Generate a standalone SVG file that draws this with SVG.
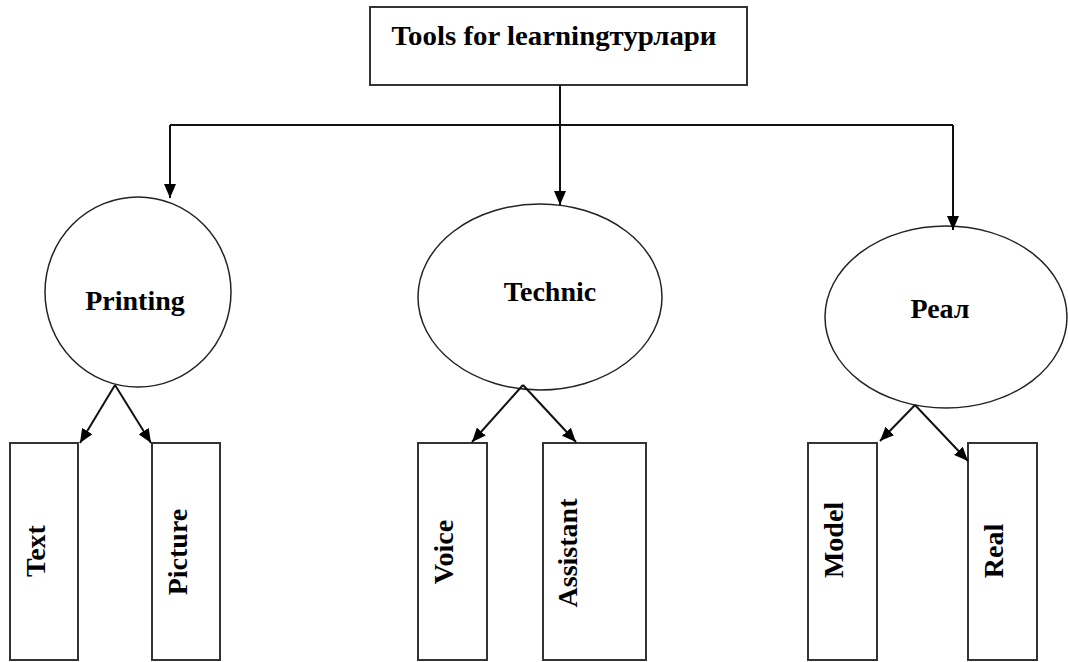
<svg xmlns="http://www.w3.org/2000/svg" width="1068" height="662" viewBox="0 0 1068 662">
<style>
.box{fill:#fff;stroke:#333;stroke-width:2}
.ell{fill:#fff;stroke:#222;stroke-width:1.5}
.lbl{font-family:"Liberation Serif","Times New Roman",serif;font-weight:bold;font-size:28px;fill:#000}
.con{fill:none;stroke:#111;stroke-width:2}
</style>
<defs>
<marker id="ah" viewBox="0 0 14 12" refX="14" refY="6" markerWidth="14" markerHeight="12" markerUnits="userSpaceOnUse" orient="auto">
<path d="M0,0 L14,6 L0,12 z" fill="#000"/>
</marker>
</defs>
<rect width="1068" height="662" fill="#fff"/>
<g id="root">
<rect class="box" x="370" y="7" width="377" height="78"/>
<text class="lbl" x="554" y="45" text-anchor="middle" textLength="325" lengthAdjust="spacingAndGlyphs">Tools for learningтурлари</text>
</g>
<g id="printing">
<ellipse class="ell" cx="138" cy="292" rx="93" ry="95"/>
<text class="lbl" x="135" y="310" text-anchor="middle">Printing</text>
</g>
<g id="technic">
<ellipse class="ell" cx="540" cy="297" rx="122" ry="93"/>
<text class="lbl" x="550" y="301" text-anchor="middle">Technic</text>
</g>
<g id="real-top">
<ellipse class="ell" cx="946" cy="317" rx="121" ry="91"/>
<text class="lbl" x="940" y="318" text-anchor="middle">Реал</text>
</g>
<g id="text">
<rect class="box" x="10" y="443" width="68" height="217"/>
<text class="lbl" transform="translate(45,551) rotate(-90)" text-anchor="middle">Text</text>
</g>
<g id="picture">
<rect class="box" x="152" y="443" width="68" height="217"/>
<text class="lbl" transform="translate(187,552) rotate(-90)" text-anchor="middle">Picture</text>
</g>
<g id="voice">
<rect class="box" x="418" y="443" width="69" height="217"/>
<text class="lbl" transform="translate(453,552) rotate(-90)" text-anchor="middle">Voice</text>
</g>
<g id="assistant">
<rect class="box" x="543" y="443" width="103" height="217"/>
<text class="lbl" transform="translate(577,553) rotate(-90)" text-anchor="middle">Assistant</text>
</g>
<g id="model">
<rect class="box" x="808" y="443" width="69" height="217"/>
<text class="lbl" transform="translate(843,540) rotate(-90)" text-anchor="middle">Model</text>
</g>
<g id="real">
<rect class="box" x="968" y="443" width="69" height="217"/>
<text class="lbl" transform="translate(1003,551) rotate(-90)" text-anchor="middle">Real</text>
</g>
<g id="connectors">
<polyline class="con" points="560,85 560,125"/>
<polyline class="con" points="170,125 953,125"/>
<line class="con" x1="170" y1="125" x2="170" y2="198" marker-end="url(#ah)"/>
<line class="con" x1="560" y1="125" x2="560" y2="205" marker-end="url(#ah)"/>
<line class="con" x1="953" y1="125" x2="953" y2="230" marker-end="url(#ah)"/>
<line class="con" x1="115" y1="385" x2="80" y2="443" marker-end="url(#ah)"/>
<line class="con" x1="115" y1="385" x2="151" y2="443" marker-end="url(#ah)"/>
<line class="con" x1="523" y1="385" x2="472" y2="442" marker-end="url(#ah)"/>
<line class="con" x1="523" y1="385" x2="576" y2="442" marker-end="url(#ah)"/>
<line class="con" x1="915" y1="405" x2="880" y2="441" marker-end="url(#ah)"/>
<line class="con" x1="915" y1="405" x2="968" y2="461" marker-end="url(#ah)"/>
</g>
</svg>
